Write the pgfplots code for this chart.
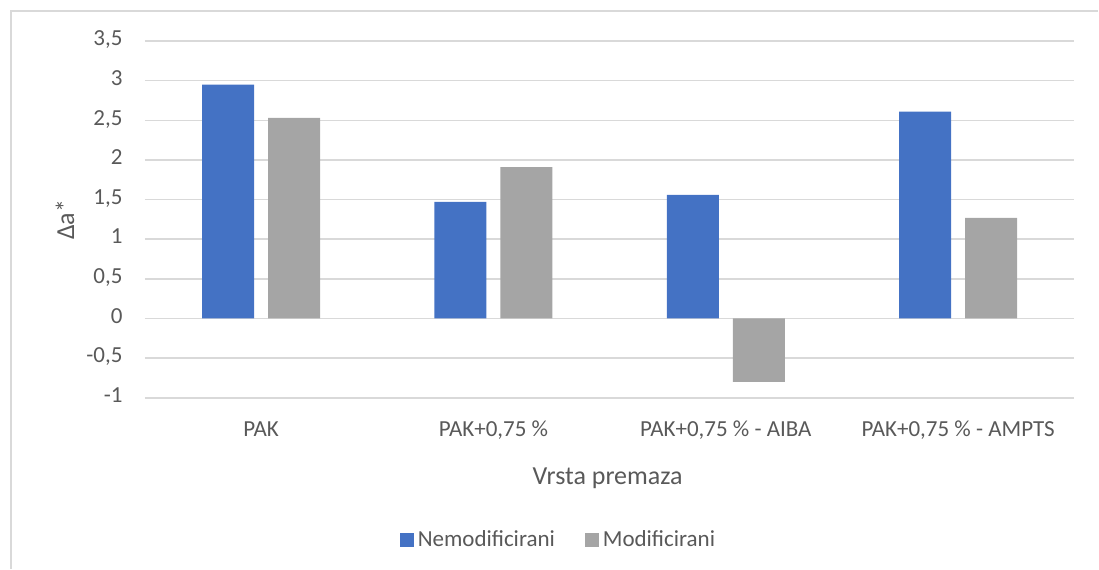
\documentclass[border=0pt]{standalone}
\usepackage{pgfplots}
\pgfplotsset{compat=1.18}
\usepackage{fontspec}
\setmainfont{Carlito}
\definecolor{barblue}{HTML}{4472C4}
\definecolor{bargray}{HTML}{A5A5A5}
\definecolor{gridgray}{HTML}{D9D9D9}
\definecolor{txtgray}{HTML}{595959}

\begin{document}
\begin{tikzpicture}
% page frame, 1px = 0.5pt
\path (0,0) rectangle (549.5pt,284.5pt);
\draw[gridgray, line width=0.7pt] (5.5pt,0) -- (5.5pt,279pt) -- (549.5pt,279pt);

\begin{axis}[
  at={(72.5pt,85.5pt)}, anchor=south west,
  scale only axis,
  width=465pt, height=178.5pt,
  ybar, bar width=0.224,
  xmin=-0.5, xmax=3.5,
  ymin=-1, ymax=3.5,
  ytick={-1,-0.5,0,0.5,1,1.5,2,2.5,3,3.5},
  xtick={0,1,2,3},
  xticklabels={PAK, PAK+0{,}75 \%, PAK+0{,}75 \% - AIBA, PAK+0{,}75 \% - AMPTS},
  axis line style={draw=none},
  major tick length=0pt,
  ymajorgrids,
  grid style={gridgray, line width=0.75pt},
  /pgf/number format/use comma,
  /pgf/number format/assume math mode=true,
  tick label style={font=\fontsize{11.5pt}{13pt}\selectfont, text=txtgray},
  yticklabel style={anchor=mid east, inner sep=0pt, xshift=-11pt},
  xticklabel style={anchor=base, inner sep=0pt, yshift=-19.5pt},
  legend style={at={(0.446,-0.398)}, anchor=center, draw=none,
    font=\fontsize{11.5pt}{13pt}\selectfont, text=txtgray,
    legend columns=2,
    /tikz/every even column/.append style={column sep=13pt}},
  legend image code/.code={\fill[#1] (-2.5pt,-3.5pt) rectangle (4.5pt,3.5pt);},
]
\addplot[fill=barblue, draw=none, bar shift=-0.142] coordinates {(0,2.95) (1,1.47) (2,1.56) (3,2.61)};
\addlegendentry{Nemodificirani}
\addplot[fill=bargray, draw=none, bar shift=0.142] coordinates {(0,2.53) (1,1.91) (2,-0.80) (3,1.27)};
\addlegendentry{Modificirani}
\end{axis}

\node[rotate=90, anchor=center, text=txtgray, font=\fontsize{13pt}{15pt}\selectfont] at (32.5pt,174.5pt) {Δa*};
\node[anchor=base, text=txtgray, font=\fontsize{13pt}{15pt}\selectfont] at (304pt,42pt) {Vrsta premaza};
\end{tikzpicture}
\end{document}
